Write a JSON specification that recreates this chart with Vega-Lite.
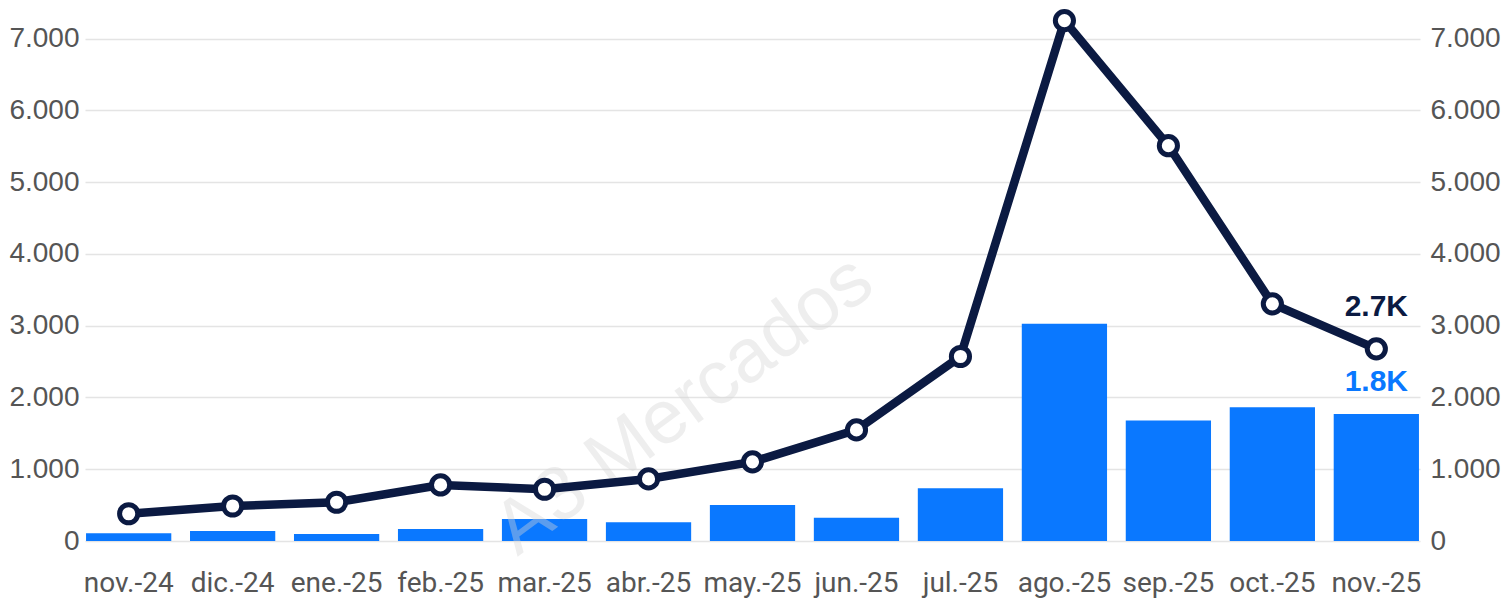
{
  "$schema": "https://vega.github.io/schema/vega-lite/v6.json",
  "width": 1335,
  "height": 531,
  "autosize": {"type": "none"},
  "padding": {"left": 85, "top": 10, "right": 86, "bottom": 59},
  "background": "white",
  "config": {"view": {"stroke": null}},
  "data": {"values": [
    {"mes": "nov.-24", "barras": 107, "linea": 380},
    {"mes": "dic.-24", "barras": 140, "linea": 488},
    {"mes": "ene.-25", "barras": 97, "linea": 540},
    {"mes": "feb.-25", "barras": 167, "linea": 781},
    {"mes": "mar.-25", "barras": 307, "linea": 721},
    {"mes": "abr.-25", "barras": 260, "linea": 865},
    {"mes": "may.-25", "barras": 502, "linea": 1103},
    {"mes": "jun.-25", "barras": 325, "linea": 1548},
    {"mes": "jul.-25", "barras": 735, "linea": 2571},
    {"mes": "ago.-25", "barras": 3026, "linea": 7252},
    {"mes": "sep.-25", "barras": 1678, "linea": 5509},
    {"mes": "oct.-25", "barras": 1865, "linea": 3305},
    {"mes": "nov.-25", "barras": 1771, "linea": 2678, "etiqueta_linea": "2.7K", "etiqueta_barras": "1.8K"}
  ]},
  "encoding": {
    "x": {"field": "mes", "type": "nominal", "sort": null,
      "scale": {"paddingInner": 0.18, "paddingOuter": 0.01},
      "axis": {"title": null, "domain": false, "ticks": false, "labelAngle": 0,
        "labelFont": "Roboto", "labelFontSize": 28, "labelColor": "#555555", "labelPadding": 28}}
  },
  "layer": [
    {
      "layer": [
        {
          "mark": {"type": "bar", "color": "#0A78FF"},
          "encoding": {"y": {"field": "barras", "type": "quantitative",
            "scale": {"domain": [0, 7400], "nice": false},
            "axis": {"title": null, "orient": "left", "domain": false, "ticks": false,
              "values": [0, 1000, 2000, 3000, 4000, 5000, 6000, 7000],
              "format": ",d", "labelExpr": "replace(datum.label, ',', '.')",
              "labelFont": "Liberation Sans", "labelFontSize": 28, "labelColor": "#555555",
              "labelPadding": 6, "grid": true, "gridColor": "#E4E4E4", "gridWidth": 1.5}}}
        },
        {
          "transform": [{"filter": "datum.etiqueta_barras != null"}],
          "mark": {"type": "text", "color": "#0A78FF", "font": "Liberation Sans", "fontSize": 30, "fontWeight": "bold", "baseline": "bottom", "dy": -17},
          "encoding": {"y": {"field": "barras", "type": "quantitative"}, "text": {"field": "etiqueta_barras"}}
        },
        {
          "data": {"values": [{"marca": "A3 Mercados", "mes": "abr.-25", "valor": 1530}]},
          "mark": {"type": "text", "font": "Liberation Sans", "fontSize": 76, "angle": -36.5, "align": "center", "baseline": "middle", "fill": "#D6D6D6", "opacity": 0.4, "dx": 44},
          "encoding": {"y": {"field": "valor", "type": "quantitative"}, "text": {"field": "marca"}}
        }
      ]
    },
    {
      "layer": [
        {
          "mark": {"type": "line", "color": "#0B1A42", "strokeWidth": 8.5},
          "encoding": {"y": {"field": "linea", "type": "quantitative",
            "scale": {"domain": [0, 7400], "nice": false},
            "axis": {"title": null, "orient": "right", "domain": false, "ticks": false,
              "values": [0, 1000, 2000, 3000, 4000, 5000, 6000, 7000],
              "format": ",d", "labelExpr": "replace(datum.label, ',', '.')",
              "labelFont": "Liberation Sans", "labelFontSize": 28, "labelColor": "#555555",
              "labelPadding": 10, "grid": false}}}
        },
        {
          "mark": {"type": "point", "shape": "circle", "filled": true, "fill": "white", "stroke": "#0B1A42", "strokeWidth": 5, "size": 330, "opacity": 1},
          "encoding": {"y": {"field": "linea", "type": "quantitative"}}
        },
        {
          "transform": [{"filter": "datum.etiqueta_linea != null"}],
          "mark": {"type": "text", "color": "#0B1A42", "font": "Liberation Sans", "fontSize": 30, "fontWeight": "bold", "baseline": "bottom", "dy": -27},
          "encoding": {"y": {"field": "linea", "type": "quantitative"}, "text": {"field": "etiqueta_linea"}}
        }
      ]
    }
  ],
  "resolve": {"scale": {"y": "independent"}}
}
